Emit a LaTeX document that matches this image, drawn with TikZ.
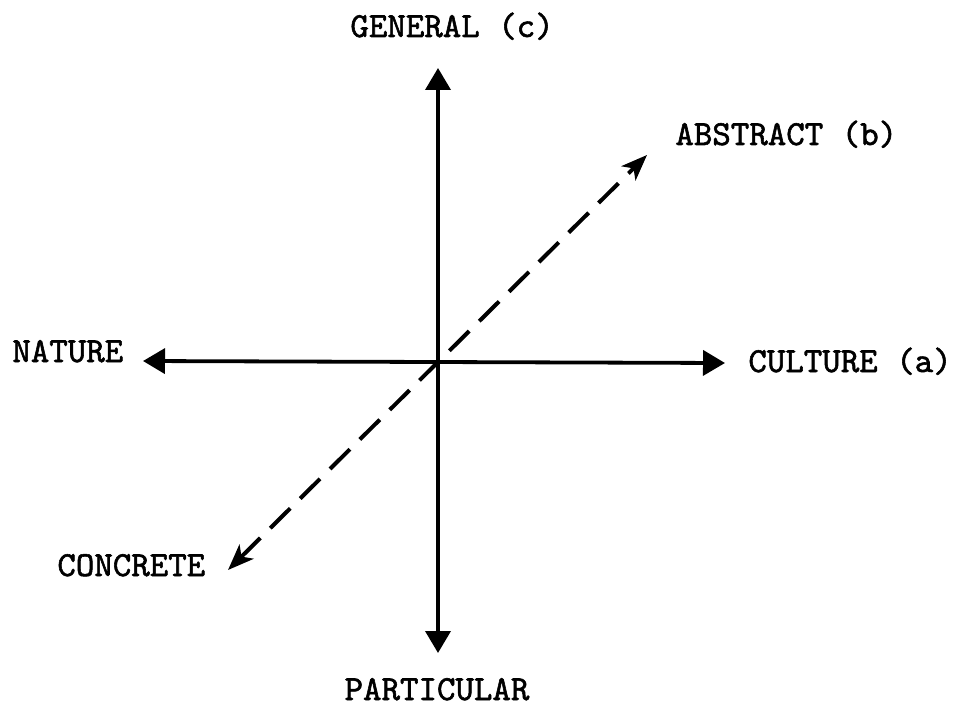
\documentclass[tikz,border=0pt]{standalone}
\usepackage{fontspec}
\newfontfamily\lblfont{lmmono10-regular}[Extension=.otf, FakeBold=1.6]
\usepackage{tikz}
\usetikzlibrary{arrows.meta}

\begin{document}
\begin{tikzpicture}[x=0.5pt, y=-0.5pt,
  every node/.style={inner sep=0pt, font=\fontsize{17.6}{20}\lblfont},
  axis/.style={line width=1.9pt, {Triangle[length=11pt,width=12.5pt]}-{Triangle[length=11pt,width=12.5pt]}},
  diag/.style={line width=2pt, dash pattern=on 14pt off 7pt, {Stealth[length=13pt,width=10pt,inset=3.5pt]}-{Stealth[length=13pt,width=10pt,inset=3.5pt]}}]
\useasboundingbox (0,0) rectangle (956,705);

% Labels
\node[anchor=base west] (general) at (350,37) {GENERAL (c)};
\node[anchor=base] (particular) at (437,700) {PARTICULAR};
\node[anchor=base west] (nature) at (12,362) {NATURE};
\node[anchor=base west] (culture) at (748,372) {CULTURE (a)};
\node[anchor=base west] (abstract) at (675,145) {ABSTRACT (b)};
\node[anchor=base west] (concrete) at (57,576) {CONCRETE};

% Arrow ends
\coordinate (top) at (438,68);
\coordinate (bottom) at (438,653);
\coordinate (left) at (143,361);
\coordinate (right) at (725,363);
\coordinate (low) at (228,570);
\coordinate (high) at (647,155);

% Axes
\draw[axis] (bottom) -- (top);
\draw[axis] (left) -- (right);
\draw[diag] (low) -- (high);

\end{tikzpicture}
\end{document}
